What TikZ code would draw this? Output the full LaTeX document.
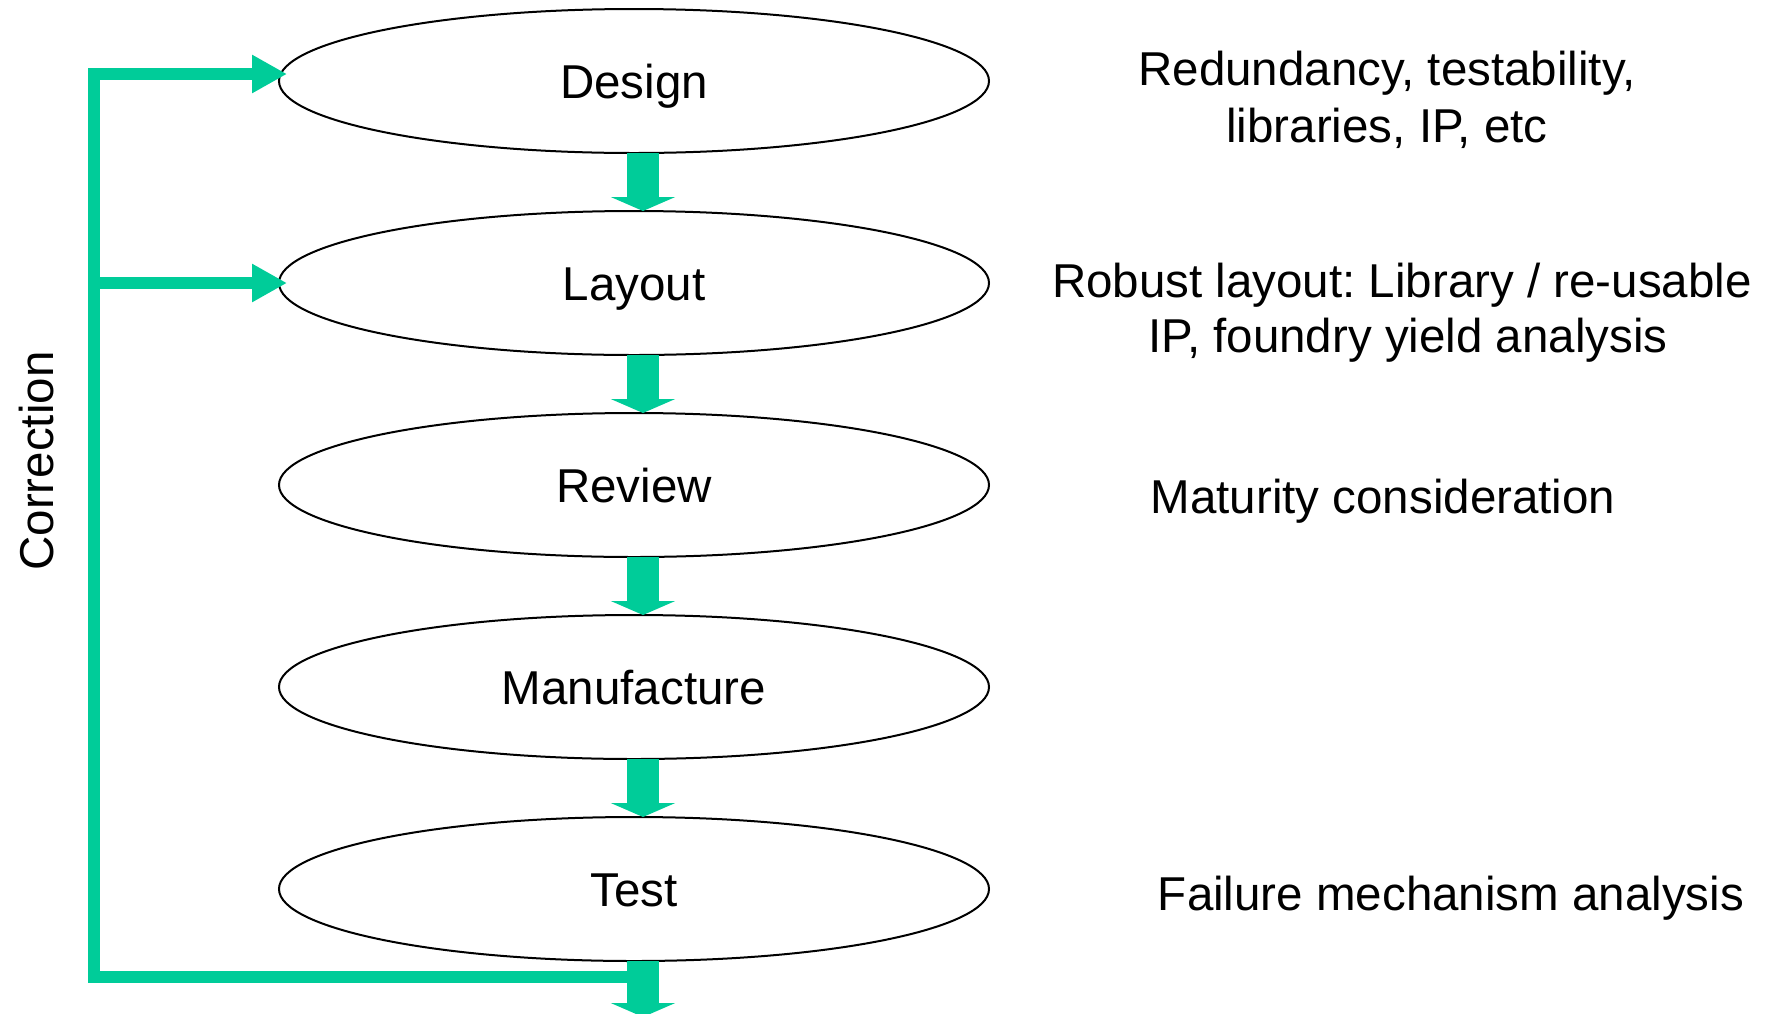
\documentclass[tikz,border=0pt]{standalone}
\usepackage{fontspec}
\setmainfont{Liberation Sans}
\usetikzlibrary{arrows.meta,shapes.geometric}
\definecolor{flowgreen}{RGB}{0,204,153}
\frenchspacing
\begin{document}
\begin{tikzpicture}[x=0.5pt,y=-0.5pt,
  txt/.style={font=\fontsize{23.75}{28}\selectfont},
  stage/.style={ellipse, draw=black, line width=1pt, fill=white,
    minimum width=355pt, minimum height=72pt, inner sep=0pt,
    text height=17pt, text depth=0pt, txt},
  note/.style={anchor=base, inner sep=0pt, txt},
  flow/.style={draw=flowgreen, line width=16pt, -{Triangle[width=32pt,length=7pt]}},
  back/.style={draw=flowgreen, line width=6pt, -{Triangle[width=18pt,length=17.5pt]}},
  backline/.style={draw=flowgreen, line width=6pt}]
\useasboundingbox (0,0) rectangle (1771,1013);
\clip (0,0) rectangle (1771,1013);

% stages
\node[stage] (design) at (634,81) {Design};
\node[stage] (layout) at (634,283) {Layout};
\node[stage] (review) at (634,485) {Review};
\node[stage] (manuf) at (634,687) {Manufacture};
\node[stage] (test) at (634,889) {Test};

% down arrows
\coordinate (d1) at (643,153);  \coordinate (d2) at (643,211);
\coordinate (l1) at (643,355);  \coordinate (l2) at (643,413);
\coordinate (r1) at (643,557);  \coordinate (r2) at (643,615);
\coordinate (m1) at (643,759);  \coordinate (m2) at (643,817);
\coordinate (t1) at (643,961);  \coordinate (t2) at (643,1017);
\draw[flow] (d1) -- (d2);
\draw[flow] (l1) -- (l2);
\draw[flow] (r1) -- (r2);
\draw[flow] (m1) -- (m2);
\draw[flow] (t1) -- (t2);

% correction loop
\coordinate (fbstart) at (628,977);
\coordinate (fbcorner) at (94,977);
\coordinate (fbtop) at (94,74);
\coordinate (fbmid) at (100,283);
\coordinate (dtip) at (287,74);
\coordinate (ltip) at (287,283);
\draw[backline, line join=miter] (fbstart) -- (fbcorner) -- (fbtop) -- ([xshift=-10pt]dtip);
\draw[back] (fbtop) -- (dtip);
\draw[back] (fbmid) -- (ltip);

\node[txt, rotate=90, inner sep=0pt] (corr) at (37,461) {Correction};

% notes
\node[note] (n1a) at (1387,85) {Redundancy, testability,};
\node[note] (n1b) at (1387,142) {libraries, IP, etc};
\node[note] (n2a) at (1402,297) {Robust layout: Library / re-usable};
\node[note] (n2b) at (1408,352) {IP, foundry yield analysis};
\node[note] (n3) at (1383,513) {Maturity consideration};
\node[note] (n4) at (1451,910) {Failure mechanism analysis};
\end{tikzpicture}
\end{document}
